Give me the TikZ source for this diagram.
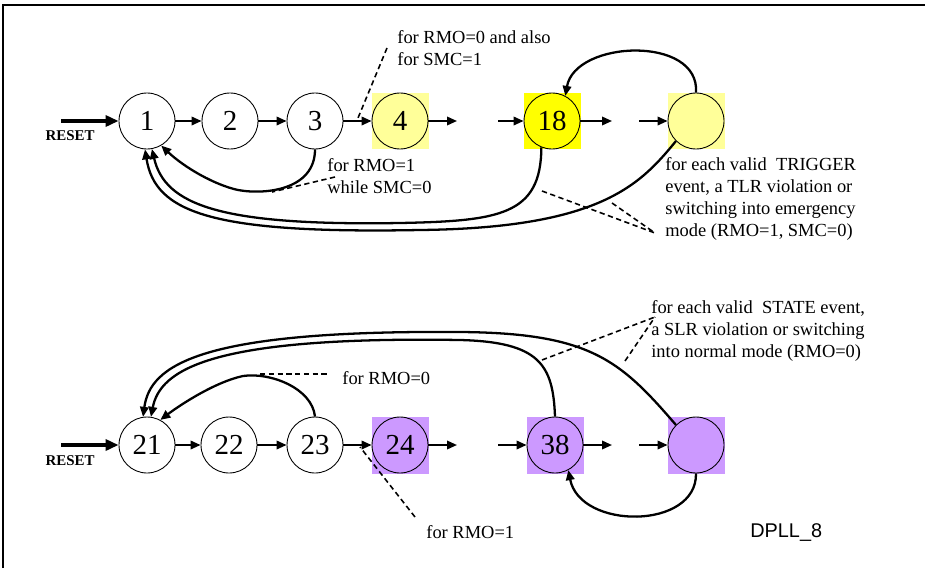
\documentclass[tikz,border=0pt]{standalone}
\usepackage{fontspec}
\setmainfont{Liberation Serif}
\setsansfont{Liberation Sans}
\usetikzlibrary{arrows.meta}
\definecolor{hlyellow}{HTML}{FFFF99}
\definecolor{fullyellow}{HTML}{FFFF00}
\definecolor{hlviolet}{HTML}{CC99FF}

\begin{document}
\begin{tikzpicture}[x=0.02cm,y=-0.02cm,>={Triangle[length=2mm,width=1.7mm]},font=\fontsize{10.5}{12.5}\selectfont]
\tikzstyle{st}=[draw,circle,minimum size=1.12cm,inner sep=0pt,line width=0.5pt,font=\fontsize{16.5}{18}\selectfont]
\tikzstyle{sq}=[rectangle,minimum size=1.14cm,inner sep=0pt]
\tikzstyle{ar}=[->,line width=1.1pt]
\tikzstyle{back}=[->,line width=1.3pt]
\tikzstyle{rst}=[-{Triangle[length=2.6mm,width=2.2mm]},line width=2.2pt]
\tikzstyle{dsh}=[dashed,line width=0.9pt,dash pattern=on 3pt off 2pt]
\tikzstyle{note}=[anchor=base west,align=left,inner sep=0pt]
\useasboundingbox (0,0) rectangle (925,568);
\draw[line width=1pt] (3,568) -- (3,5) -- (925,5);
% upper chain
\node[sq,fill=hlyellow] (q4) at (400,121) {}; \node[sq,fill=fullyellow] (q18) at (552,121) {}; \node[sq,fill=hlyellow] (qe1) at (696,121) {};
\node[st,fill=white] (s1) at (147,121) {1}; \node[st,fill=white] (s2) at (230,121) {2}; \node[st,fill=white] (s3) at (315,121) {3};
\node[st] (s4) at (q4) {4}; \node[st] (s18) at (q18) {18}; \node[st] (se1) at (qe1) {};
\coordinate (r1) at (61,121); \coordinate (g1) at (457,121); \coordinate (g2) at (498,121); \coordinate (g3) at (612,121); \coordinate (g4) at (639,121);
\draw[rst] (r1) -- (s1); \node[font=\fontsize{8.5}{10}\selectfont\bfseries,anchor=base] (t1) at (70,140) {RESET};
\draw[ar] (s1) -- (s2); \draw[ar] (s2) -- (s3); \draw[ar] (s3) -- (s4); \draw[ar] (s4) -- (g1); \draw[ar] (g2) -- (s18); \draw[ar] (s18) -- (g3); \draw[ar] (g4) -- (se1);
\draw[back] (s3.south) .. controls (315,190) and (265,195) .. (238,190) .. controls (215,185) and (185,168) .. (s1.-60);
\draw[back] (s18.-112) .. controls (541,215) and (500,221) .. (400,223) .. controls (220,226) and (165,205) .. (s1.-80);
\draw[back] (se1.-135) .. controls (640,185) and (600,228) .. (420,230) .. controls (210,234) and (155,212) .. (s1.-94);
\draw[back] (se1.north) .. controls (700,35) and (575,40) .. (s18.62);
\node[note] (n1) at (397,65) {for RMO=0 and also\\for SMC=1};
\node[note] (n2) at (327,193) {for RMO=1\\while SMC=0};
\node[note] (n3) at (665,236) {for each valid\ \ TRIGGER\\event, a TLR violation or\\switching into emergency\\mode (RMO=1, SMC=0)};
\coordinate (p1) at (387,48); \coordinate (p2) at (358,118); \coordinate (p3) at (335,177); \coordinate (p4) at (272,192);
\coordinate (p5) at (655,233); \coordinate (p6) at (542,191); \coordinate (p7) at (612,203);
\draw[dsh] (p1) -- (p2); \draw[dsh] (p3) -- (p4); \draw[dsh] (p6) -- (p5); \draw[dsh] (p7) -- (p5);
% lower chain
\node[sq,fill=hlviolet] (q24) at (400,445) {}; \node[sq,fill=hlviolet] (q38) at (555,445) {}; \node[sq,fill=hlviolet] (qe2) at (696,445) {};
\node[st,fill=white] (s21) at (147,445) {21}; \node[st,fill=white] (s22) at (229,445) {22}; \node[st,fill=white] (s23) at (315,445) {23};
\node[st] (s24) at (q24) {24}; \node[st] (s38) at (q38) {38}; \node[st] (se2) at (qe2) {};
\coordinate (r2) at (61,445); \coordinate (h1) at (457,445); \coordinate (h2) at (498,445); \coordinate (h3) at (612,445); \coordinate (h4) at (639,445);
\draw[rst] (r2) -- (s21); \node[font=\fontsize{8.5}{10}\selectfont\bfseries,anchor=base] (t2) at (70,465) {RESET};
\draw[ar] (s21) -- (s22); \draw[ar] (s22) -- (s23); \draw[ar] (s23) -- (s24); \draw[ar] (s24) -- (h1); \draw[ar] (h2) -- (s38); \draw[ar] (s38) -- (h3); \draw[ar] (h4) -- (se2);
\draw[back] (s23.north) .. controls (312,388) and (270,372) .. (243,376) .. controls (215,382) and (180,405) .. (s21.62);
\draw[back] (s38.north) .. controls (553,365) and (540,342) .. (460,340) .. controls (210,336) and (160,370) .. (s21.82);
\draw[back] (se2.135) .. controls (620,360) and (590,333) .. (460,332) .. controls (200,330) and (150,365) .. (s21.98);
\draw[back] (se2.south) .. controls (697,530) and (580,530) .. (s38.-62);
\node[note] (n4) at (342,384) {for RMO=0};
\node[note] (n5) at (426,538) {for RMO=1};
\node[note] (n6) at (651,357) {for each valid\ \ STATE event,\\a SLR violation or switching\\into normal mode (RMO=0)};
\node[anchor=base west,inner sep=0pt,font=\fontsize{11.3}{13}\selectfont\sffamily] (n7) at (750,537) {DPLL\_8};
\coordinate (m1) at (260,374); \coordinate (m2) at (330,374); \coordinate (m3) at (415,517); \coordinate (m4) at (360,447);
\coordinate (m5) at (655,317); \coordinate (m6) at (542,360); \coordinate (m7) at (625,361);
\draw[dsh] (m1) -- (m2); \draw[dsh] (m3) -- (m4); \draw[dsh] (m6) -- (m5); \draw[dsh] (m7) -- (m5);
\end{tikzpicture}
\end{document}
